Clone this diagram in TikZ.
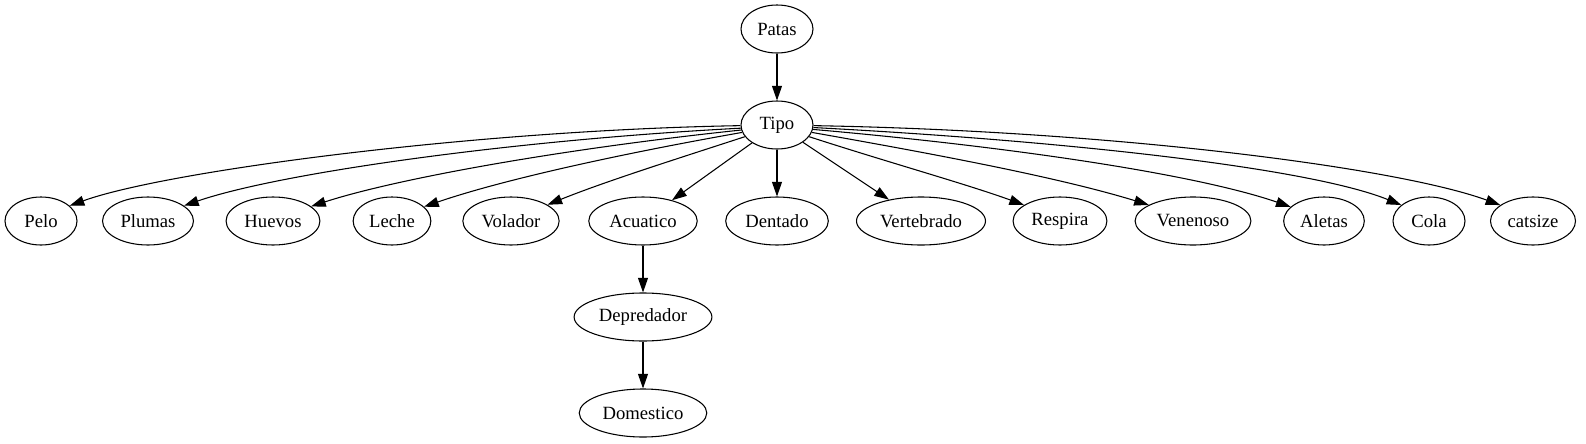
\documentclass[tikz,border=0pt]{standalone}
\usepackage{fontspec}
\setmainfont{Liberation Serif}
\usetikzlibrary{arrows.meta, shapes.geometric}

\begin{document}
\begin{tikzpicture}[x=0.75pt, y=0.75pt,
    var/.style={draw, ellipse, line width=0.8pt, inner xsep=3.5pt, inner ysep=2pt,
        minimum width=54pt, minimum height=36pt, font=\fontsize{14pt}{16pt}\selectfont},
    arr/.style={line width=0.8pt, -{Triangle[length=11pt,width=7.5pt]}}]
    \useasboundingbox (0,0) rectangle (1586,-443);

    % Top
    \node[var] (patas) at (777,-29) {Patas};
    \node[var] (tipo) at (777,-125) {Tipo};

    % Row
    \node[var] (pelo) at (41,-221) {Pelo};
    \node[var] (plumas) at (148,-221) {Plumas};
    \node[var] (huevos) at (273,-221) {Huevos};
    \node[var] (leche) at (392,-221) {Leche};
    \node[var] (volador) at (511,-221) {Volador};
    \node[var] (acuatico) at (643,-221) {Acuatico};
    \node[var] (dentado) at (777,-221) {Dentado};
    \node[var] (vertebrado) at (921,-221) {Vertebrado};
    \node[var] (respira) at (1060,-221) {Respira};
    \node[var] (venenoso) at (1193,-221) {Venenoso};
    \node[var] (aletas) at (1324,-221) {Aletas};
    \node[var] (cola) at (1429,-221) {Cola};
    \node[var] (catsize) at (1533,-221) {catsize};

    % Chain
    \node[var] (depredador) at (643,-317) {Depredador};
    \node[var] (domestico) at (643,-413) {Domestico};

    % Edges
    \draw[arr] (patas) -- (tipo);
    \draw[arr] (tipo.181) .. controls +(181:270) and +(20:100) .. (pelo.28);
    \draw[arr] (tipo.185) .. controls +(183:230) and +(19:100) .. (plumas.23);
    \draw[arr] (tipo.188) .. controls +(186:180) and +(18:90) .. (huevos.21);
    \draw[arr] (tipo.192) .. controls +(190:130) and +(19:80) .. (leche.24);
    \draw[arr] (tipo.200) .. controls +(198:80) and +(22:60) .. (volador.24);
    \draw[arr] (tipo) -- (acuatico);
    \draw[arr] (tipo) -- (dentado);
    \draw[arr] (tipo) -- (vertebrado);
    \draw[arr] (tipo.340) .. controls +(342:80) and +(160:60) .. (respira.156);
    \draw[arr] (tipo.348) .. controls +(350:140) and +(163:90) .. (venenoso.160);
    \draw[arr] (tipo.353) .. controls +(355:200) and +(161:100) .. (aletas.157);
    \draw[arr] (tipo.356) .. controls +(357:250) and +(158:100) .. (cola.150);
    \draw[arr] (tipo.359) .. controls +(359:300) and +(160:110) .. (catsize.154);
    \draw[arr] (acuatico) -- (depredador);
    \draw[arr] (depredador) -- (domestico);
\end{tikzpicture}
\end{document}
